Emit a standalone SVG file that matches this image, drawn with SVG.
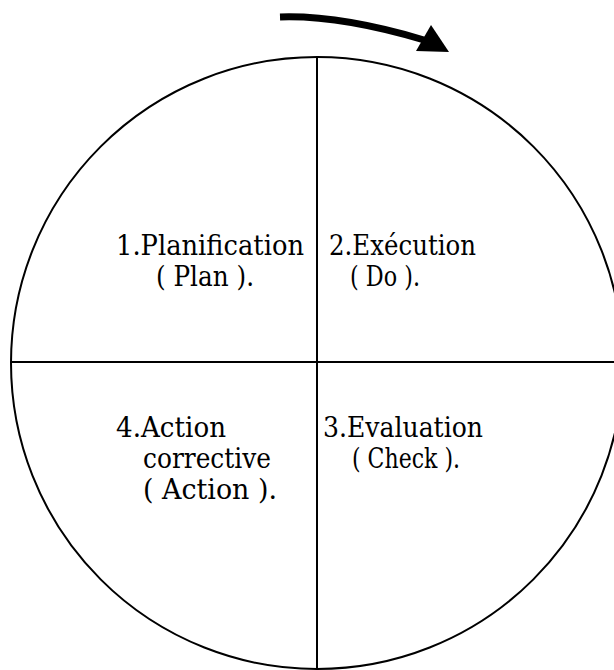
<svg xmlns="http://www.w3.org/2000/svg" width="614" height="670" viewBox="0 0 614 670">
  <style>
    .ln { fill: none; stroke: #000; stroke-width: 2; }
    text { font-family: 'DejaVu Serif', 'Liberation Serif', 'Times New Roman', serif; font-size: 27px; fill: #000; }
  </style>
  <rect width="614" height="670" fill="#fff"/>

  <!-- cycle wheel: circle split into four quadrants -->
  <g id="wheel">
    <circle class="ln" cx="317" cy="363" r="306"/>
    <line class="ln" x1="317" y1="57" x2="317" y2="670"/>
    <line class="ln" x1="11" y1="362" x2="614" y2="362"/>
  </g>

  <!-- rotation direction arrow -->
  <g id="connectors">
    <path d="M280,17 Q340,15 424,40" fill="none" stroke="#000" stroke-width="7"/>
    <polygon points="431,25 416,51 449,52" fill="#000"/>
  </g>

  <g id="plan">
    <text x="116" y="255" textLength="188" lengthAdjust="spacingAndGlyphs">1.Planification</text>
    <text x="156" y="286" textLength="98" lengthAdjust="spacingAndGlyphs">( Plan ).</text>
  </g>
  <g id="do">
    <text x="329" y="255" textLength="147" lengthAdjust="spacingAndGlyphs">2.Exécution</text>
    <text x="350" y="286" textLength="70" lengthAdjust="spacingAndGlyphs">( Do ).</text>
  </g>
  <g id="check">
    <text x="323" y="437" textLength="160" lengthAdjust="spacingAndGlyphs">3.Evaluation</text>
    <text x="352" y="468" textLength="108" lengthAdjust="spacingAndGlyphs">( Check ).</text>
  </g>
  <g id="act">
    <text x="116" y="437" textLength="110" lengthAdjust="spacingAndGlyphs">4.Action</text>
    <text x="143" y="468" textLength="128" lengthAdjust="spacingAndGlyphs">corrective</text>
    <text x="143" y="499" textLength="134" lengthAdjust="spacingAndGlyphs">( Action ).</text>
  </g>
</svg>
